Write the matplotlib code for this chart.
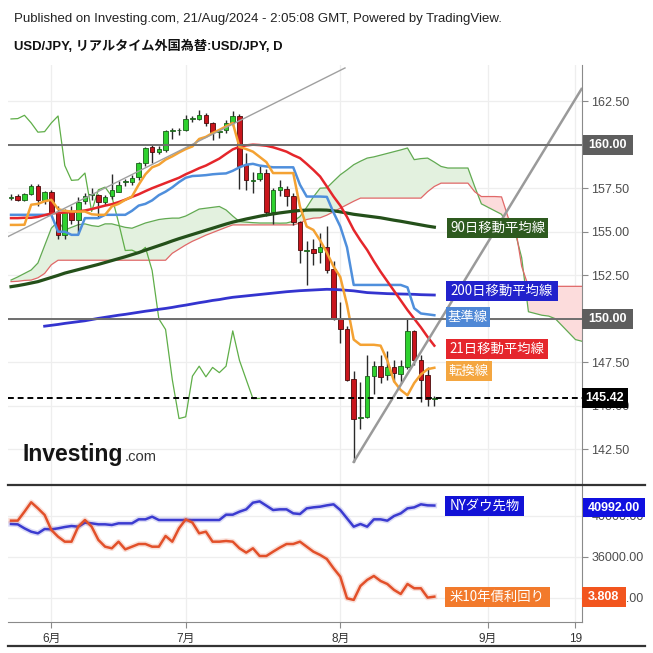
import matplotlib
matplotlib.use('Agg')
import matplotlib.pyplot as plt
import numpy as np
import pandas as pd
from matplotlib import font_manager
from matplotlib.patches import Rectangle
from matplotlib.lines import Line2D
from matplotlib.transforms import Bbox, TransformedBbox

_names = {f.name for f in font_manager.fontManager.ttflist}
NARROW = 'Liberation Sans Narrow' if 'Liberation Sans Narrow' in _names else 'Liberation Sans'
SANS = 'Liberation Sans'
CJK = 'Noto Sans CJK JP'

# ---------------- data ----------------
first_bar = '2024-05-24'
tick_dates = ['2024-06-03', '2024-07-01', '2024-08-01', '2024-09-02', '2024-09-19']
tick_labels = ['6月', '7月', '8月', '9月', '19']

opens = [156.95, 157.05, 156.85, 157.15, 157.65, 156.8, 157.3, 156.1, 154.8, 156.15,
         155.65, 156.77, 157.1, 157.12, 156.68, 157.06, 157.3, 157.85, 157.83, 158.14,
         158.94, 159.85, 159.56, 159.7, 160.8, 160.82, 160.83, 161.48, 161.48, 161.69,
         161.25, 160.72, 160.83, 161.28, 161.63, 158.85, 157.92, 158.04, 158.37, 156.16,
         157.37, 157.45, 157.03, 155.53, 153.9, 154.0, 153.86, 154.1, 152.85, 149.96,
         149.38, 146.56, 144.3, 144.36, 146.7, 147.27, 146.76, 147.2, 146.85, 147.24,
         149.3, 147.62, 146.76, 145.41]
highs = [157.15, 157.15, 157.25, 157.75, 157.75, 157.35, 157.4, 156.5, 156.3, 156.45,
         157.0, 157.25, 157.5, 157.15, 157.1, 158.3, 157.9, 158.05, 158.25, 159.0,
         159.85, 160.0, 159.9, 160.85, 160.95, 160.95, 161.7, 161.65, 161.98, 161.8,
         161.3, 160.9, 161.4, 161.95, 161.75, 159.5, 158.45, 158.75, 158.6, 157.5,
         157.95, 157.64, 157.2, 155.6, 154.45, 154.6, 154.9, 155.3, 153.3, 150.98,
         149.6, 147.0, 146.37, 147.9, 147.55, 147.9, 148.15, 147.6, 147.6, 150.0,
         149.35, 147.9, 147.24, 145.55]
lows = [156.8, 156.75, 156.75, 157.1, 156.45, 156.6, 156.0, 154.6, 154.6, 155.45,
        154.95, 156.6, 156.83, 155.78, 156.55, 156.9, 157.3, 157.65, 157.7, 157.95,
        158.8, 158.95, 159.45, 159.6, 160.3, 160.55, 160.8, 161.3, 161.4, 161.05,
        160.25, 160.4, 160.7, 161.1, 157.45, 157.4, 157.2, 157.9, 155.9, 155.45,
        157.03, 156.45, 155.4, 153.2, 151.95, 153.1, 153.19, 152.6, 149.9, 148.58,
        146.4, 141.77, 143.68, 144.3, 145.65, 146.3, 146.5, 146.35, 146.3, 147.1,
        147.34, 145.2, 145.0, 145.0]
closes = [157.0, 156.85, 157.15, 157.65, 156.8, 157.3, 156.1, 154.8, 156.15, 155.65,
          156.7, 157.06, 157.15, 156.68, 157.02, 157.41, 157.7, 157.9, 158.08, 158.94,
          159.81, 159.56, 159.74, 160.81, 160.83, 160.85, 161.48, 161.5, 161.69, 161.25,
          160.72, 160.75, 161.25, 161.65, 158.8, 157.95, 157.98, 158.37, 156.16, 157.41,
          157.56, 157.03, 155.53, 153.92, 153.94, 153.76, 154.1, 152.77, 149.99, 149.38,
          146.5, 144.26, 144.36, 146.7, 147.27, 146.66, 147.2, 146.9, 147.27, 149.3,
          147.6, 146.5, 145.41, 145.42]
last_price = 145.42

ma21 = [155.78, 155.78, 155.8, 155.8, 155.85, 155.95, 156.05, 156.08, 156.1, 156.13,
        156.17, 156.22, 156.3, 156.4, 156.5, 156.58, 156.7, 156.84, 157.0, 157.15,
        157.33, 157.5, 157.65, 157.8, 157.95, 158.1, 158.3, 158.47, 158.65, 158.8,
        159.0, 159.2, 159.47, 159.73, 159.88, 159.96, 160.0, 159.98, 159.94, 159.85,
        159.73, 159.6, 159.4, 159.23, 158.9, 158.55, 158.17, 157.6, 157.02, 156.5,
        155.85, 155.1, 154.5, 153.95, 153.3, 152.7, 152.15, 151.6, 151.05, 150.5,
        150.0, 149.5, 148.95, 148.45]
ma90 = [151.84, 151.9, 151.97, 152.05, 152.13, 152.25, 152.37, 152.49, 152.62, 152.72,
        152.82, 152.92, 153.02, 153.12, 153.23, 153.34, 153.45, 153.56, 153.68, 153.8,
        153.94, 154.07, 154.2, 154.33, 154.47, 154.6, 154.72, 154.84, 154.96, 155.08,
        155.2, 155.32, 155.44, 155.55, 155.64, 155.73, 155.81, 155.89, 155.96, 156.02,
        156.08, 156.13, 156.18, 156.22, 156.24, 156.25, 156.25, 156.24, 156.2, 156.14,
        156.07, 156.0, 155.95, 155.9, 155.85, 155.8, 155.73, 155.66, 155.6, 155.53,
        155.46, 155.39, 155.32, 155.26]
ma200 = [np.nan] * 5 + [
        149.57, 149.62, 149.67, 149.73, 149.78, 149.83, 149.88, 149.95, 150.02, 150.08,
        150.14, 150.2, 150.25, 150.31, 150.37, 150.43, 150.48, 150.54, 150.59, 150.65,
        150.72, 150.78, 150.85, 150.92, 150.98, 151.05, 151.1, 151.17, 151.23, 151.27,
        151.31, 151.35, 151.39, 151.43, 151.47, 151.51, 151.55, 151.58, 151.61, 151.63,
        151.65, 151.67, 151.69, 151.68, 151.66, 151.63, 151.6, 151.55, 151.5, 151.48,
        151.46, 151.44, 151.43, 151.42, 151.41, 151.4, 151.38, 151.37, 151.36]
tenkan = [155.39, 155.39, 155.4, 156.55, 156.6, 156.75, 156.83, 156.3, 156.2, 156.16,
          156.16, 156.16, 156.0, 155.97, 155.97, 156.45, 156.6, 156.83, 157.02, 157.7,
          158.3, 158.7, 158.85, 159.14, 159.33, 159.55, 159.75, 159.9, 160.33, 160.45,
          160.67, 160.85, 161.05, 161.25, 159.87, 159.75, 159.6, 159.3, 159.0, 158.37,
          158.37, 158.37, 158.37, 156.45, 155.3, 155.1, 154.5, 153.8, 153.0, 152.4,
          150.8, 148.8, 148.5, 148.5, 148.5, 148.45, 147.6, 146.4, 145.9, 145.6,
          146.3, 146.8, 147.1, 147.18]
kijun = [155.97, 155.97, 155.97, 155.97, 155.97, 155.97, 155.97, 155.0, 155.0, 154.82,
         154.82, 155.78, 155.78, 155.78, 155.97, 155.97, 155.97, 155.97, 156.2, 156.5,
         156.6, 156.8, 157.1, 157.3, 157.55, 157.85, 158.1, 158.2, 158.22, 158.25,
         158.3, 158.33, 158.35, 158.5, 158.7, 158.85, 158.9, 158.8, 158.75, 158.7,
         158.7, 158.7, 158.7, 157.7, 157.02, 157.02, 157.02, 157.0, 156.1, 155.3,
         154.1, 151.94, 151.94, 151.94, 151.94, 151.94, 151.94, 151.94, 151.94, 151.8,
         150.6, 150.3, 150.25, 150.2]
span_a = [152.22, 152.4, 152.6, 152.8, 153.2, 154.2, 155.2, 155.6, 155.1, 155.25,
          155.4, 155.45, 155.35, 155.3, 155.45, 155.45, 155.35, 155.25, 155.2, 155.35,
          155.5, 155.6, 155.7, 155.75, 155.78, 155.78, 155.9, 156.1, 156.3, 156.35,
          156.4, 156.45, 156.25, 155.9, 155.58, 155.55, 155.52, 155.5, 155.5, 155.5,
          155.49, 155.5, 155.6, 155.87, 156.4, 157.0, 157.5, 157.52, 157.9, 158.27,
          158.55, 158.85, 159.05, 159.23, 159.3, 159.4, 159.5, 159.6, 159.7, 159.81,
          159.14, 159.2, 159.23, 159.0, 158.75, 158.66, 158.66, 158.66, 158.66, 157.6,
          156.6, 156.4, 156.2, 156.0, 155.3, 155.0, 153.5, 150.4, 150.3, 150.2,
          150.15, 150.0, 149.6, 149.2, 148.8, 148.7]
span_b = [152.13, 152.15, 152.2, 152.22, 152.35, 152.6, 153.1, 153.36, 153.36, 153.36,
          153.36, 153.36, 153.36, 153.36, 153.36, 153.36, 153.36, 153.36, 153.36, 153.36,
          153.36, 153.36, 153.36, 153.36, 153.76, 154.0, 154.24, 154.45, 154.62, 154.8,
          154.95, 155.1, 155.25, 155.39, 155.39, 155.39, 155.39, 155.39, 155.39, 155.39,
          155.39, 155.39, 155.39, 155.5, 155.7, 155.78, 155.8, 155.95, 156.15, 156.35,
          156.55, 156.75, 156.93, 156.93, 156.93, 156.93, 156.93, 156.93, 156.93, 156.93,
          156.93, 156.93, 157.3, 157.6, 157.79, 157.79, 157.79, 157.79, 157.79, 157.3,
          157.02, 157.02, 157.02, 157.0, 155.8, 155.4, 153.0, 151.86, 151.86, 151.86,
          151.86, 151.86, 151.86, 151.86, 151.86, 151.86]
chikou_shift = 26

levels = [160.0, 150.0]
trend_a_idx = [-0.45, 49.7]
trend_a_px = [154.72, 164.41]
trend_b_idx = [51, 84.9]
trend_b_px = [141.77, 163.2]

dow = [39190, 39158, 38767, 38442, 38280, 38702, 38670, 38767, 38897, 38995,
       38930, 39320, 39255, 39158, 39158, 39093, 39255, 39255, 39255, 39645,
       39645, 39905, 39580, 39580, 39580, 39580, 39580, 39580, 39580, 39580,
       39580, 39580, 40100, 40100, 40393, 40620, 41270, 41400, 40978, 40555,
       40620, 40620, 40230, 40165, 40718, 40816, 40880, 41010, 41110, 40555,
       39742, 38930, 39190, 38930, 39645, 39645, 39515, 39970, 40230, 40718,
       40816, 41110, 41010, 40992]
us10y = [4.462, 4.462, 4.539, 4.620, 4.568, 4.511, 4.382, 4.324, 4.281, 4.281,
         4.410, 4.468, 4.410, 4.296, 4.238, 4.224, 4.281, 4.215, 4.238, 4.261,
         4.261, 4.238, 4.238, 4.330, 4.281, 4.396, 4.473, 4.445, 4.353, 4.367,
         4.281, 4.281, 4.287, 4.281, 4.224, 4.187, 4.224, 4.158, 4.158, 4.195,
         4.230, 4.261, 4.261, 4.281, 4.238, 4.195, 4.167, 4.132, 4.052, 3.980,
         3.794, 3.780, 3.900, 3.952, 3.986, 3.943, 3.917, 3.866, 3.831, 3.917,
         3.880, 3.880, 3.800, 3.808]
dow_ticks = [32000, 36000, 40000]
price_ticks = [142.5, 145.0, 147.5, 150.0, 152.5, 155.0, 157.5, 160.0, 162.5]

# ---------------- layout ----------------
W = H = 653
fig = plt.figure(figsize=(W / 100, H / 100), dpi=100)
fig.patch.set_facecolor('white')
L, R = 8, 581.5
ax = fig.add_axes([L / W, 1 - 484 / H, (R - L) / W, (484 - 65) / H])
ax2 = fig.add_axes([L / W, 1 - 622 / H, (R - L) / W, (622 - 486) / H])
ax3 = ax2.twinx()
ax3.set_position(ax2.get_position())

all_dates = pd.bdate_range(first_bar, periods=len(span_a) + 4)
tick_idx = [all_dates.get_loc(pd.Timestamp(d)) for d in tick_dates]

x = np.arange(len(closes))
xc = np.arange(len(span_a))
XL = (-0.45, 84.9)

for a in (ax, ax2, ax3):
    a.set_xlim(*XL)
ax.set_ylim(140.50, 164.58)
ax2.set_ylim(29630, 42898)
ax3.set_ylim(3.590, 4.760)

GRID = '#eeeeee'
SPINE = '#8a8a8a'
for a in (ax, ax2):
    for s in ('left', 'top'):
        a.spines[s].set_visible(False)
    a.spines['right'].set_color(SPINE)
    a.spines['bottom'].set_visible(False)
    a.set_xticks(tick_idx)
    a.grid(True, color=GRID, lw=0.9, zorder=0)
    a.set_axisbelow(True)
for s in ax3.spines.values():
    s.set_visible(False)
ax3.set_yticks([])
ax2.spines['bottom'].set_visible(True)
ax2.spines['bottom'].set_color(SPINE)

# price axis (160/150 values are shown in the level tags)
ax.yaxis.tick_right()
ax.set_yticks(price_ticks)
ax.set_yticklabels(['' if v in levels else f'{v:.2f}' for v in price_ticks])
ax.tick_params(axis='y', length=4, color=SPINE, labelcolor='#4d4d4d', labelsize=9, pad=3)
ax.tick_params(axis='x', length=0, labelbottom=False)
for t in ax.get_yticklabels():
    t.set_family(SANS)

# cloud
sa = np.array(span_a)
sb = np.array(span_b)
ax.fill_between(xc, sa, sb, where=sa >= sb, interpolate=True, color='#e3f1df', lw=0, zorder=1)
ax.fill_between(xc, sa, sb, where=sa < sb, interpolate=True, color='#fcdcdc', lw=0, zorder=1)
ax.plot(xc, sa, color='#62aa52', lw=0.9, zorder=2)
ax.plot(xc, sb, color='#e06868', lw=0.9, zorder=2)

# lagging span (closes shifted back)
cl = np.array(closes)
ax.plot(x[:len(cl) - chikou_shift], cl[chikou_shift:], color='#5fae48', lw=0.9, zorder=2)

# candles
o = np.array(opens); hi = np.array(highs); lo = np.array(lows)
up = cl >= o
ax.vlines(x, lo, hi, color='#2a2a2a', lw=1.0, zorder=3)
bot = np.minimum(o, cl)
hgt = np.maximum(np.abs(cl - o), 0.05)
ax.bar(x[up], hgt[up], bottom=bot[up], width=0.68, color='#2ed12e', edgecolor='#1b5e1b', lw=0.6, zorder=3.5)
ax.bar(x[~up], hgt[~up], bottom=bot[~up], width=0.68, color='#c9151c', edgecolor='#4a0a0a', lw=0.6, zorder=3.5)

# indicator lines
ax.plot(x, ma90, color='#24501a', lw=2.3, zorder=4)
ax.plot(x, ma200, color='#3434cf', lw=2.0, zorder=4)
ax.plot(x, kijun, color='#4f8fdc', lw=1.8, zorder=4.1)
ax.plot(x, ma21, color='#e5262b', lw=1.8, zorder=4.2)
ax.plot(x, tenkan, color='#f4a233', lw=1.8, zorder=4.3)

# horizontal levels, trendlines, last price
for lv in levels:
    ax.axhline(lv, color='#6e6e6e', lw=1.4, zorder=4.5)
ax.plot(trend_a_idx, trend_a_px, color='#a0a0a0', lw=1.0, zorder=4.4)
ax.plot(trend_b_idx, trend_b_px, color='#9a9a9a', lw=1.8, zorder=4.4)
ax.axhline(last_price, color='black', lw=1.4, dashes=(3, 2), zorder=4.6)

# lower panel
ax2.yaxis.tick_right()
ax2.set_yticks(dow_ticks)
ax2.set_yticklabels([f'{v:.2f}' for v in dow_ticks])
ax2.tick_params(axis='y', length=4, color=SPINE, labelcolor='#4d4d4d', labelsize=9, pad=3)
ax2.set_xticklabels(tick_labels)
ax2.tick_params(axis='x', length=4, color=SPINE, labelcolor='#333333', labelsize=8.5, pad=4)
for t in ax2.get_xticklabels() + ax2.get_yticklabels():
    t.set_family([SANS, CJK])
clipbox = TransformedBbox(Bbox.from_extents(0, 0, R / W, 1), fig.transFigure)
for t in ax2.get_xticklabels():
    t.set_clip_box(clipbox)
    t.set_clip_on(True)
ax2.plot(x, dow, color='#3b3bd0', lw=4, alpha=0.18, zorder=3)
ax2.plot(x, dow, color='#3b3bd0', lw=1.8, zorder=3.1)
ax3.plot(x, us10y, color='#e2502a', lw=4, alpha=0.18, zorder=3)
ax3.plot(x, us10y, color='#e2502a', lw=1.8, zorder=3.1)


# ---------------- tags & decorations ----------------
def py(a, v):
    return H - a.transData.transform((0, v))[1]


def tag(x0, x1, yc, text, fc, fs, family, h=20, weight='normal', tc='white'):
    fig.add_artist(Rectangle((x0 / W, 1 - (yc + h / 2) / H), (x1 - x0) / W, h / H,
                             transform=fig.transFigure, facecolor=fc, edgecolor='none', zorder=8))
    fig.text((x0 + x1) / 2 / W, 1 - yc / H, text, ha='center', va='center', color=tc,
             fontsize=fs, family=family, weight=weight, zorder=9)


JP = [CJK]
tag(446.7, 548.3, py(ax, ma90[-1]) + 1, '90日移動平均線', '#2e5a1f', 9.6, JP)
tag(445.7, 558.3, py(ax, ma200[-1]) - 4, '200日移動平均線', '#2222cc', 9.6, JP)
tag(445.7, 490.0, py(ax, kijun[-1]) + 2, '基準線', '#4f88d6', 9.6, JP)
tag(445.7, 548.3, py(ax, ma21[-1]) + 3, '21日移動平均線', '#e5262c', 9.6, JP)
tag(445.7, 491.7, py(ax, tenkan[-1]) + 3, '転換線', '#f4a640', 9.6, JP)
tag(445.0, 524.0, py(ax2, dow[-1]), 'NYダウ先物', '#1212d6', 9.6, JP)
tag(445.0, 550.0, py(ax3, us10y[-1]), '米10年債利回り', '#f27a2c', 9.6, JP)

tag(582.7, 632.7, py(ax, levels[0]), f'{levels[0]:.2f}', '#5e5e5e', 9, [SANS], weight='bold')
tag(581.7, 632.7, py(ax, levels[1]), f'{levels[1]:.2f}', '#5e5e5e', 9, [SANS], weight='bold')
tag(581.7, 628.3, py(ax, last_price), f'{last_price:.2f}', '#000000', 9, [SANS], weight='bold')
tag(583.0, 645.0, py(ax2, dow[-1]) + 2, f'{dow[-1]:.2f}', '#1010e0', 9, [SANS], h=19, weight='bold')
tag(581.7, 626.0, py(ax3, us10y[-1]), f'{us10y[-1]:.3f}', '#f2551e', 9, [SANS], weight='bold')

# separators
fig.add_artist(Line2D([8 / W, 645 / W], [1 - 485 / H] * 2, color='#333333', lw=1.6, zorder=7))
fig.add_artist(Line2D([8 / W, 645 / W], [1 - 646 / H] * 2, color='#333333', lw=1.6, zorder=7))

# header
renderer = fig.canvas.get_renderer()


def fit(t, target):
    w = t.get_window_extent(renderer).width
    t.set_fontsize(t.get_fontsize() * target / w)


t1 = fig.text(14 / W, 1 - 19 / H, 'Published on Investing.com, 21/Aug/2024 - 2:05:08 GMT, Powered by TradingView.',
              ha='left', va='center', fontsize=10, family=[NARROW, CJK], color='#222222')
fit(t1, 492)
t2 = fig.text(14 / W, 1 - 46 / H, 'USD/JPY, リアルタイム外国為替:USD/JPY, D',
              ha='left', va='center', fontsize=10, family=[NARROW, CJK], weight='bold', color='#111111')
fit(t2, 269)

# watermark logo
t3 = fig.text(22 / W, 1 - 455 / H, 'Investing', ha='left', va='center', fontsize=20,
              family=[NARROW], weight='bold', color='#151515', zorder=6)
fit(t3, 101)
t4 = fig.text(125 / W, 1 - 457 / H, '.com', ha='left', va='center', fontsize=14,
              family=[NARROW], color='#333333', zorder=6)
fit(t4, 32)

fig.savefig('out.png', dpi=100, facecolor='white')
